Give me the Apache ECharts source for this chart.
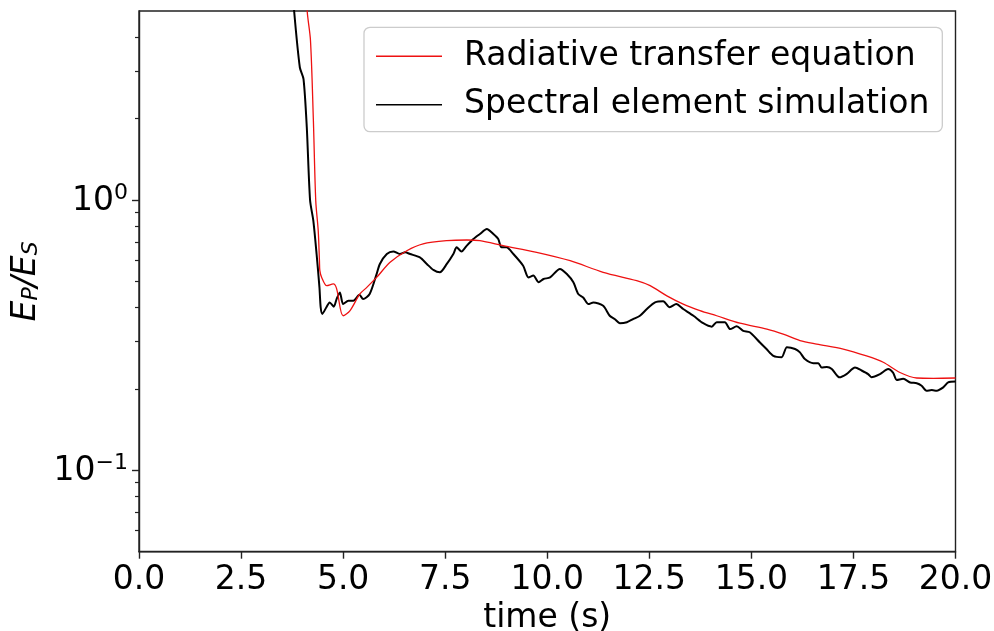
<!DOCTYPE html>
<html>
<head>
<meta charset="utf-8">
<script src="https://cdn.jsdelivr.net/npm/echarts@6/dist/echarts.min.js"></script>
<style>
  html, body { margin: 0; padding: 0; background: #fff; }
  #chart { width: 994px; height: 631px; }
</style>
</head>
<body>
<div id="chart"></div>
<script>
// Energy ratio E_P/E_S versus time for the two modelling approaches.
const rteTime = [4.0, 4.12, 4.20, 4.27, 4.33, 4.39, 4.42, 4.43, 4.475, 4.60, 4.76, 4.84, 5.00, 5.17, 5.41, 5.58, 5.82, 6.15, 6.56, 6.96, 7.54, 8.03, 8.35, 8.92, 9.74, 10.56, 11.37, 12.19, 12.52, 12.93, 13.33, 13.74, 14.15, 14.72, 15.38, 15.78, 16.19, 16.60, 17.25, 17.82, 18.23, 18.64, 19.05, 19.46, 20.0];
const rteRatio = [12, 5.0, 3.9, 2.0, 0.99, 0.77, 0.596, 0.548, 0.517, 0.482, 0.489, 0.470, 0.373, 0.390, 0.449, 0.475, 0.517, 0.588, 0.649, 0.688, 0.707, 0.711, 0.707, 0.678, 0.640, 0.596, 0.540, 0.503, 0.482, 0.442, 0.412, 0.390, 0.373, 0.350, 0.333, 0.319, 0.302, 0.293, 0.281, 0.265, 0.251, 0.230, 0.2195, 0.219, 0.2195];

const semTime = [3.7, 3.80, 3.94, 4.03, 4.11, 4.19, 4.27, 4.35, 4.42, 4.45, 4.49, 4.59, 4.67, 4.77, 4.84, 4.92, 5.00, 5.13, 5.25, 5.40, 5.49, 5.65, 5.82, 5.90, 6.07, 6.23, 6.39, 6.52, 6.64, 6.88, 7.05, 7.21, 7.37, 7.54, 7.70, 7.78, 7.90, 8.03, 8.19, 8.35, 8.52, 8.68, 8.80, 8.88, 9.00, 9.17, 9.41, 9.54, 9.66, 9.79, 9.91, 10.07, 10.31, 10.48, 10.64, 10.76, 10.88, 11.01, 11.13, 11.37, 11.53, 11.65, 11.78, 11.95, 12.11, 12.27, 12.44, 12.64, 12.84, 13.00, 13.16, 13.33, 13.58, 13.82, 14.03, 14.15, 14.35, 14.48, 14.64, 14.80, 14.96, 15.21, 15.37, 15.54, 15.74, 15.87, 16.07, 16.19, 16.31, 16.52, 16.64, 16.72, 16.85, 16.97, 17.16, 17.33, 17.54, 17.70, 17.86, 17.94, 18.15, 18.35, 18.47, 18.56, 18.72, 18.89, 19.05, 19.17, 19.29, 19.42, 19.54, 19.70, 19.82, 20.0];
const semRatio = [8, 5.0, 3.09, 2.80, 1.857, 1.0, 0.838, 0.631, 0.475, 0.401, 0.379, 0.401, 0.418, 0.403, 0.430, 0.455, 0.412, 0.424, 0.424, 0.446, 0.430, 0.449, 0.532, 0.580, 0.631, 0.645, 0.631, 0.640, 0.631, 0.613, 0.580, 0.551, 0.540, 0.580, 0.631, 0.668, 0.645, 0.678, 0.717, 0.748, 0.781, 0.748, 0.717, 0.668, 0.668, 0.631, 0.571, 0.517, 0.525, 0.496, 0.510, 0.517, 0.556, 0.532, 0.496, 0.449, 0.436, 0.412, 0.418, 0.406, 0.373, 0.363, 0.350, 0.353, 0.363, 0.373, 0.395, 0.418, 0.422, 0.401, 0.412, 0.395, 0.373, 0.350, 0.340, 0.353, 0.353, 0.333, 0.341, 0.328, 0.324, 0.297, 0.281, 0.265, 0.262, 0.285, 0.281, 0.273, 0.258, 0.249, 0.249, 0.240, 0.241, 0.237, 0.2207, 0.227, 0.240, 0.234, 0.227, 0.221, 0.227, 0.237, 0.230, 0.216, 0.218, 0.2114, 0.210, 0.2056, 0.197, 0.198, 0.197, 0.2026, 0.2114, 0.213];

const xTickValues = [0, 2.5, 5, 7.5, 10, 12.5, 15, 17.5, 20];
const yMajorTicks = [0.1, 1];
const yMajorExponents = ['\u22121', '0'];
const yMinorTicks = [0.06, 0.07, 0.08, 0.09, 0.2, 0.3, 0.4, 0.5, 0.6, 0.7, 0.8, 0.9, 2, 3, 4];
const seriesNames = ['Radiative transfer equation', 'Spectral element simulation'];

const FONT = 'DejaVu Sans';
const FS = 33;
const INK = '#000';

const zip = (xs, ys) => xs.map((x, i) => [x, ys[i]]);

const chart = echarts.init(document.getElementById('chart'), null, { renderer: 'canvas' });

const yBase = {
  type: 'log',
  logBase: 10,
  min: 0.05,
  max: 5,
  position: 'left',
  splitLine: { show: false },
  minorTick: { show: false },
  minorSplitLine: { show: false }
};

chart.setOption({
  backgroundColor: '#fff',
  animation: false,
  grid: {
    left: 139, top: 11, right: 38.5, bottom: 79.3,
    show: true, borderColor: '#222', borderWidth: 1.4,
    containLabel: false,
    outerBoundsMode: 'none'
  },
  legend: {
    orient: 'vertical',
    left: 364, top: 27.3,
    padding: [11, 13, 9, 12],
    itemWidth: 66, itemHeight: 1.6, itemGap: 12.4,
    icon: 'path://M0,0H66V1.6H0Z',
    backgroundColor: 'rgba(255,255,255,0.8)',
    borderColor: '#cccccc', borderWidth: 1.3, borderRadius: 6,
    textStyle: { fontFamily: FONT, fontSize: FS, color: INK, lineHeight: 36, padding: [0, 0, 0, 17] },
    data: seriesNames
  },
  xAxis: {
    type: 'value',
    min: 0, max: 20, interval: 2.5,
    name: 'time (s)',
    nameLocation: 'middle', nameGap: 43,
    nameTextStyle: { fontFamily: FONT, fontSize: FS, color: INK },
    axisLine: { show: true, lineStyle: { color: '#222', width: 1.4 } },
    axisTick: { show: true, length: 7, lineStyle: { color: '#222', width: 1.4 } },
    axisLabel: {
      margin: 12, fontFamily: FONT, fontSize: FS, color: INK,
      showMinLabel: true, showMaxLabel: true,
      formatter: v => xTickValues.includes(v) ? v.toFixed(1) : ''
    },
    splitLine: { show: false }
  },
  yAxis: [
    Object.assign({}, yBase, {
      name: '{i|E}{sub|P}{i|/E}{sub|S}',
      nameLocation: 'middle', nameRotate: 90, nameGap: 74,
      nameTextStyle: {
        rich: {
          i: { fontFamily: FONT, fontStyle: 'italic', fontSize: FS, color: INK, lineHeight: 38, verticalAlign: 'bottom' },
          sub: { fontFamily: FONT, fontStyle: 'italic', fontSize: 22, color: INK, lineHeight: 27, verticalAlign: 'bottom' }
        }
      },
      axisLine: { show: true, lineStyle: { color: '#222', width: 1.4 } },
      axisTick: { show: true, length: 7, customValues: yMajorTicks, lineStyle: { color: '#222', width: 1.4 } },
      axisLabel: {
        margin: 11,
        customValues: yMajorTicks,
        formatter: v => {
          const k = yMajorTicks.findIndex(t => Math.abs(t - v) < 1e-9);
          return k < 0 ? '' : '{b|10}{s|' + yMajorExponents[k] + '}';
        },
        rich: {
          b: { fontFamily: FONT, fontSize: FS, color: INK, lineHeight: 36, verticalAlign: 'bottom' },
          s: { fontFamily: FONT, fontSize: 22, color: INK, lineHeight: 36, verticalAlign: 'top' }
        }
      }
    }),
    Object.assign({}, yBase, {
      axisLine: { show: false },
      axisTick: { show: true, length: 4, customValues: yMinorTicks, lineStyle: { color: '#222', width: 1.2 } },
      axisLabel: { show: false }
    })
  ],
  series: [
    {
      name: seriesNames[0], type: 'line', yAxisIndex: 0,
      data: zip(rteTime, rteRatio),
      showSymbol: false, symbol: 'none', clip: true, smooth: 0.3,
      color: '#ee1111',
      lineStyle: { color: '#ee1111', width: 1.3 },
      z: 3
    },
    {
      name: seriesNames[1], type: 'line', yAxisIndex: 0,
      data: zip(semTime, semRatio),
      showSymbol: false, symbol: 'none', clip: true, smooth: 0.25,
      color: '#000',
      lineStyle: { color: '#000', width: 2 },
      z: 2
    }
  ]
});
</script>
</body>
</html>
